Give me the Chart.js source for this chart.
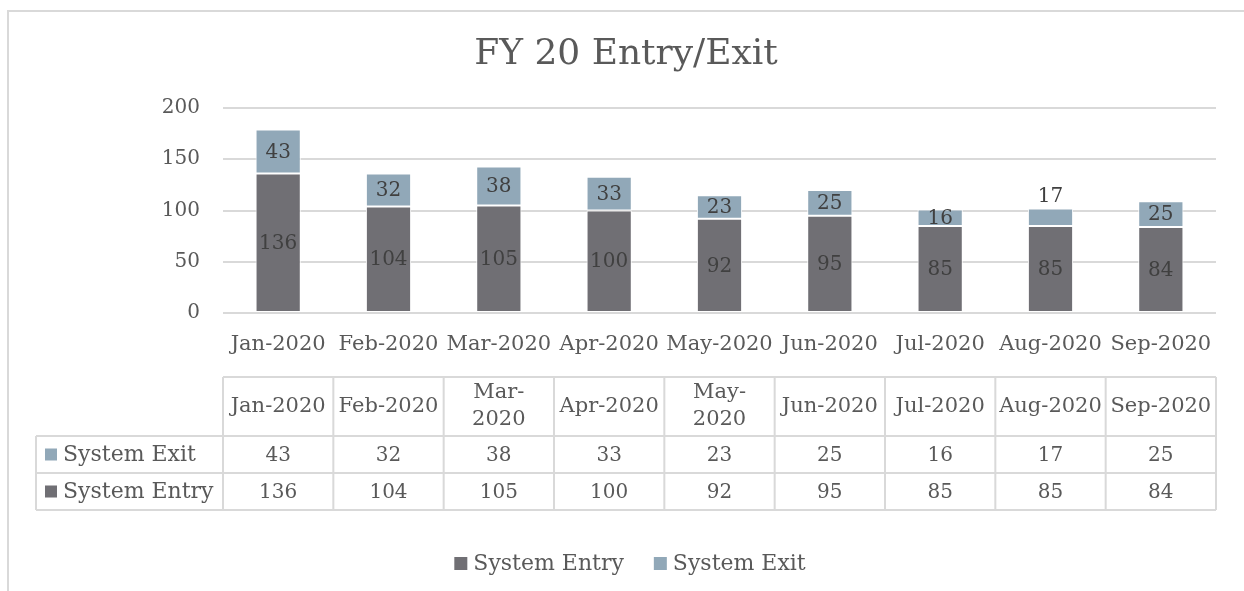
<!DOCTYPE html>
<html>
<head>
<meta charset="utf-8">
<script src="https://cdn.jsdelivr.net/npm/chart.js@4.4.0/dist/chart.umd.min.js"></script>
<style>
  body { margin: 0; background: #fff; overflow: hidden; }
  #wrap { position: relative; width: 1244px; height: 591px; }
  #frame { position: absolute; left: 7px; top: 10px; width: 1300px; height: 700px; border: 2px solid #d9d9d9; box-sizing: border-box; }
  canvas { position: absolute; left: 0; top: 0; }
</style>
</head>
<body>
<div id="wrap">
  <div id="frame"></div>
  <canvas id="barChart" width="1244" height="591"></canvas>
</div>
<script>
const chartTitle = 'FY 20 Entry/Exit';
const categories = ['Jan-2020', 'Feb-2020', 'Mar-2020', 'Apr-2020', 'May-2020', 'Jun-2020', 'Jul-2020', 'Aug-2020', 'Sep-2020'];
// header cells of the data table (Mar and May wrap in the original)
const tableHeaders = [['Jan-2020'], ['Feb-2020'], ['Mar-', '2020'], ['Apr-2020'], ['May-', '2020'], ['Jun-2020'], ['Jul-2020'], ['Aug-2020'], ['Sep-2020']];
const systemEntry = [136, 104, 105, 100, 92, 95, 85, 85, 84];
const systemExit = [43, 32, 38, 33, 23, 25, 16, 17, 25];
const yTicks = [0, 50, 100, 150, 200];

const FONT = 'DejaVu Serif';
const TEXT = '#595959';
const LINE = '#d9d9d9';
const entryColor = '#706f74';
const exitColor = '#91a8b8';

// labels inside the bars (one exit label sits above its bar)
const barLabels = {
  id: 'barLabels',
  afterDatasetsDraw(chart, args, opts) {
    const ctx = chart.ctx;
    ctx.save();
    ctx.font = '20px "' + FONT + '"';
    ctx.fillStyle = '#404040';
    ctx.textAlign = 'center';
    chart.data.datasets.forEach((ds, di) => {
      const meta = chart.getDatasetMeta(di);
      meta.data.forEach((el, i) => {
        const p = el.getProps(['x', 'y', 'base'], true);
        if (di === 1 && opts.outside.includes(i)) {
          ctx.textBaseline = 'bottom';
          ctx.fillText(ds.data[i], p.x, p.y - 2);
        } else {
          ctx.textBaseline = 'middle';
          ctx.fillText(ds.data[i], p.x, (p.y + p.base) / 2 + 1);
        }
      });
    });
    ctx.restore();
  }
};

// title, data table under the axis, legend at the bottom
const dataTable = {
  id: 'dataTable',
  afterDraw(chart) {
    const ctx = chart.ctx;
    const xs = chart.scales.x;
    const n = categories.length;
    const colW = (xs.right - xs.left) / n;
    const left = xs.left, right = xs.right;
    const tLeft = 36, hTop = 377, r1 = 436, r2 = 473, r3 = 510;

    ctx.save();
    ctx.fillStyle = TEXT;
    ctx.textAlign = 'center';
    ctx.textBaseline = 'middle';
    ctx.font = '36px "' + FONT + '"';
    ctx.fillText(chartTitle, 626, 55);

    ctx.strokeStyle = LINE;
    ctx.lineWidth = 2;
    ctx.beginPath();
    ctx.moveTo(left, hTop); ctx.lineTo(right, hTop);
    ctx.moveTo(tLeft, r1); ctx.lineTo(right, r1);
    ctx.moveTo(tLeft, r2); ctx.lineTo(right, r2);
    ctx.moveTo(tLeft, r3); ctx.lineTo(right, r3);
    ctx.moveTo(tLeft, r1); ctx.lineTo(tLeft, r3);
    for (let i = 0; i <= n; i++) {
      const x = left + i * colW;
      ctx.moveTo(x, hTop); ctx.lineTo(x, r3);
    }
    ctx.stroke();

    tableHeaders.forEach((lines, i) => {
      const cx = left + (i + 0.5) * colW;
      const cy = (hTop + r1) / 2;
      const lh = 27;
      ctx.font = '21px "' + FONT + '"';
      lines.forEach((t, k) => {
        ctx.fillText(t, cx, cy + (k - (lines.length - 1) / 2) * lh);
      });
      ctx.font = '20px "' + FONT + '"';
      ctx.fillText(systemExit[i], cx, (r1 + r2) / 2 + 1);
      ctx.fillText(systemEntry[i], cx, (r2 + r3) / 2 + 1);
    });

    // row headers
    ctx.font = '22px "' + FONT + '"';
    ctx.textAlign = 'left';
    ctx.fillStyle = exitColor;
    ctx.fillRect(45, (r1 + r2) / 2 - 6, 12, 12);
    ctx.fillStyle = entryColor;
    ctx.fillRect(45, (r2 + r3) / 2 - 6, 12, 12);
    ctx.fillStyle = TEXT;
    ctx.fillText('System Exit', 63, (r1 + r2) / 2 + 1);
    ctx.fillText('System Entry', 63, (r2 + r3) / 2 + 1);

    // legend
    const items = [['System Entry', entryColor], ['System Exit', exitColor]];
    const gap = 30, box = 13, sp = 6;
    const widths = items.map(it => box + sp + ctx.measureText(it[0]).width);
    const total = widths.reduce((a, b) => a + b, 0) + gap;
    let x = 630 - total / 2;
    const ly = 563;
    items.forEach((it, k) => {
      ctx.fillStyle = it[1];
      ctx.fillRect(x, ly - 6, box, box);
      ctx.fillStyle = TEXT;
      ctx.fillText(it[0], x + box + sp, ly + 1);
      x += widths[k] + gap;
    });
    ctx.restore();
  }
};

const ctx = document.getElementById('barChart').getContext('2d');
new Chart(ctx, {
  type: 'bar',
  data: {
    labels: categories,
    datasets: [
      { label: 'System Entry', data: systemEntry, backgroundColor: entryColor, borderColor: '#ffffff', borderWidth: 1, borderSkipped: false },
      { label: 'System Exit', data: systemExit, backgroundColor: exitColor, borderColor: '#ffffff', borderWidth: 1, borderSkipped: false }
    ]
  },
  options: {
    responsive: false,
    animation: false,
    devicePixelRatio: 1,
    categoryPercentage: 1,
    barPercentage: 0.41,
    layout: { padding: { left: 0, right: 28, top: 108, bottom: 0 } },
    plugins: {
      legend: { display: false },
      tooltip: { enabled: false },
      title: { display: false },
      barLabels: { outside: [7] }
    },
    scales: {
      x: {
        stacked: true,
        grid: { display: false, drawTicks: false },
        border: { display: false },
        ticks: { color: TEXT, font: { family: FONT, size: 21 }, padding: 19, maxRotation: 0, autoSkip: false },
        afterFit: s => { s.height = 278; }
      },
      y: {
        stacked: true,
        min: 0,
        max: 200,
        afterBuildTicks: s => { s.ticks = yTicks.map(v => ({ value: v })); },
        grid: { color: LINE, lineWidth: 2, drawTicks: false },
        border: { display: false },
        ticks: { color: TEXT, font: { family: FONT, size: 20 }, padding: 23 },
        afterFit: s => { s.width = 223; }
      }
    }
  },
  plugins: [barLabels, dataTable]
});
</script>
</body>
</html>
